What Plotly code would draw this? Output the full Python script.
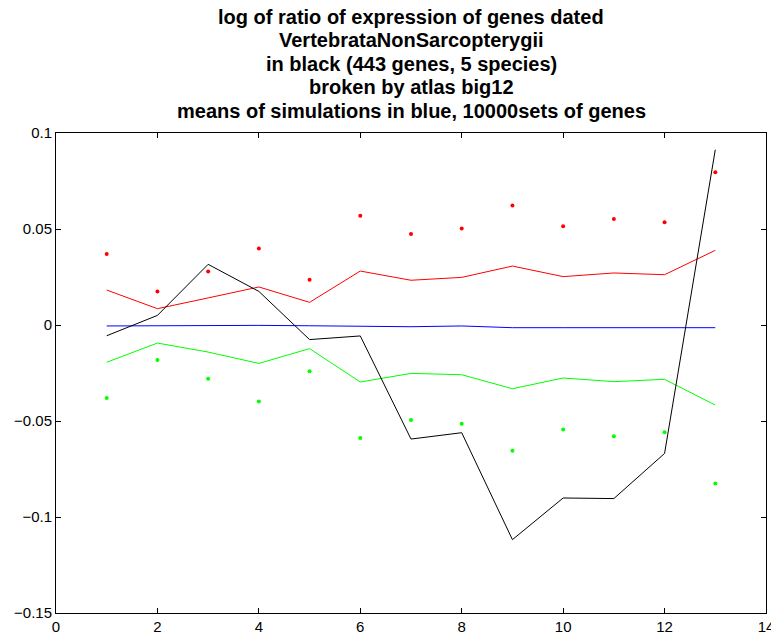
import plotly.graph_objects as go

x = list(range(1, 14))
black = [-0.0056, 0.0050, 0.0316, 0.0175, -0.0076, -0.0057, -0.0594, -0.0561, -0.1118, -0.0901, -0.0904, -0.0669, 0.0913]
blue = [-0.0005, -0.0004, -0.0002, -0.0002, -0.0004, -0.0007, -0.0009, -0.0005, -0.0014, -0.0014, -0.0014, -0.0013, -0.0014]
red_line = [0.0182, 0.0085, 0.0141, 0.0198, 0.0118, 0.0281, 0.0233, 0.0248, 0.0307, 0.0252, 0.0271, 0.0262, 0.0389]
green_line = [-0.0194, -0.0094, -0.0141, -0.0200, -0.0123, -0.0297, -0.0252, -0.0259, -0.0332, -0.0276, -0.0295, -0.0283, -0.0417]
red_dots = [0.0370, 0.0175, 0.0278, 0.0399, 0.0236, 0.0569, 0.0474, 0.0502, 0.0623, 0.0514, 0.0552, 0.0535, 0.0795]
green_dots = [-0.0380, -0.0182, -0.0280, -0.0399, -0.0241, -0.0589, -0.0495, -0.0514, -0.0655, -0.0544, -0.0580, -0.0559, -0.0826]

title_lines = [
    "log of ratio of expression of genes dated",
    "VertebrataNonSarcopterygii",
    "in black (443 genes, 5 species)",
    "broken by atlas big12",
    "means of simulations in blue, 10000sets of genes",
]
x_ticks = [0, 2, 4, 6, 8, 10, 12, 14]
y_ticks = [-0.15, -0.1, -0.05, 0, 0.05, 0.1]
y_tick_text = ["\u22120.15", "\u22120.1", "\u22120.05", "0", "0.05", "0.1"]

FONT = "Liberation Sans, Arial, Helvetica, sans-serif"

fig = go.Figure()
fig.add_trace(go.Scatter(x=x, y=red_line, mode="lines", line=dict(color="#ff0000", width=1)))
fig.add_trace(go.Scatter(x=x, y=green_line, mode="lines", line=dict(color="#00ff00", width=1)))
fig.add_trace(go.Scatter(x=x, y=blue, mode="lines", line=dict(color="#0000ff", width=1)))
fig.add_trace(go.Scatter(x=x, y=black, mode="lines", line=dict(color="#000000", width=1)))
fig.add_trace(go.Scatter(x=x, y=red_dots, mode="markers", marker=dict(color="#ff0000", size=4)))
fig.add_trace(go.Scatter(x=x, y=green_dots, mode="markers", marker=dict(color="#00ff00", size=4)))

PLOT_TOP = 133
for i, t in enumerate(title_lines):
    fig.add_annotation(text="<b>" + t + "</b>", xref="paper", yref="paper", x=0.5, y=1,
                       yanchor="middle", xanchor="center", showarrow=False,
                       yshift=PLOT_TOP - (16.5 + i * 23.6),
                       font=dict(family=FONT, size=20, color="black"))

axis_common = dict(showgrid=False, zeroline=False, showline=True, linecolor="black", linewidth=1,
                   mirror="ticks", ticks="inside", ticklen=5, tickcolor="black",
                   automargin=False, ticklabeloverflow="allow",
                   tickfont=dict(family=FONT, size=15, color="black"))
fig.update_xaxes(range=[0, 14], tickvals=x_ticks, **axis_common)
fig.update_yaxes(range=[-0.15, 0.1], tickvals=y_ticks, ticktext=y_tick_text, **axis_common)

fig.update_layout(width=771, height=635, showlegend=False, plot_bgcolor="white", paper_bgcolor="white",
                  margin=dict(l=56, r=5, t=PLOT_TOP, b=22))
fig.write_html("out.html", config={"displayModeBar": False},
               post_script="document.body.style.margin='0';document.body.style.overflow='hidden';")
